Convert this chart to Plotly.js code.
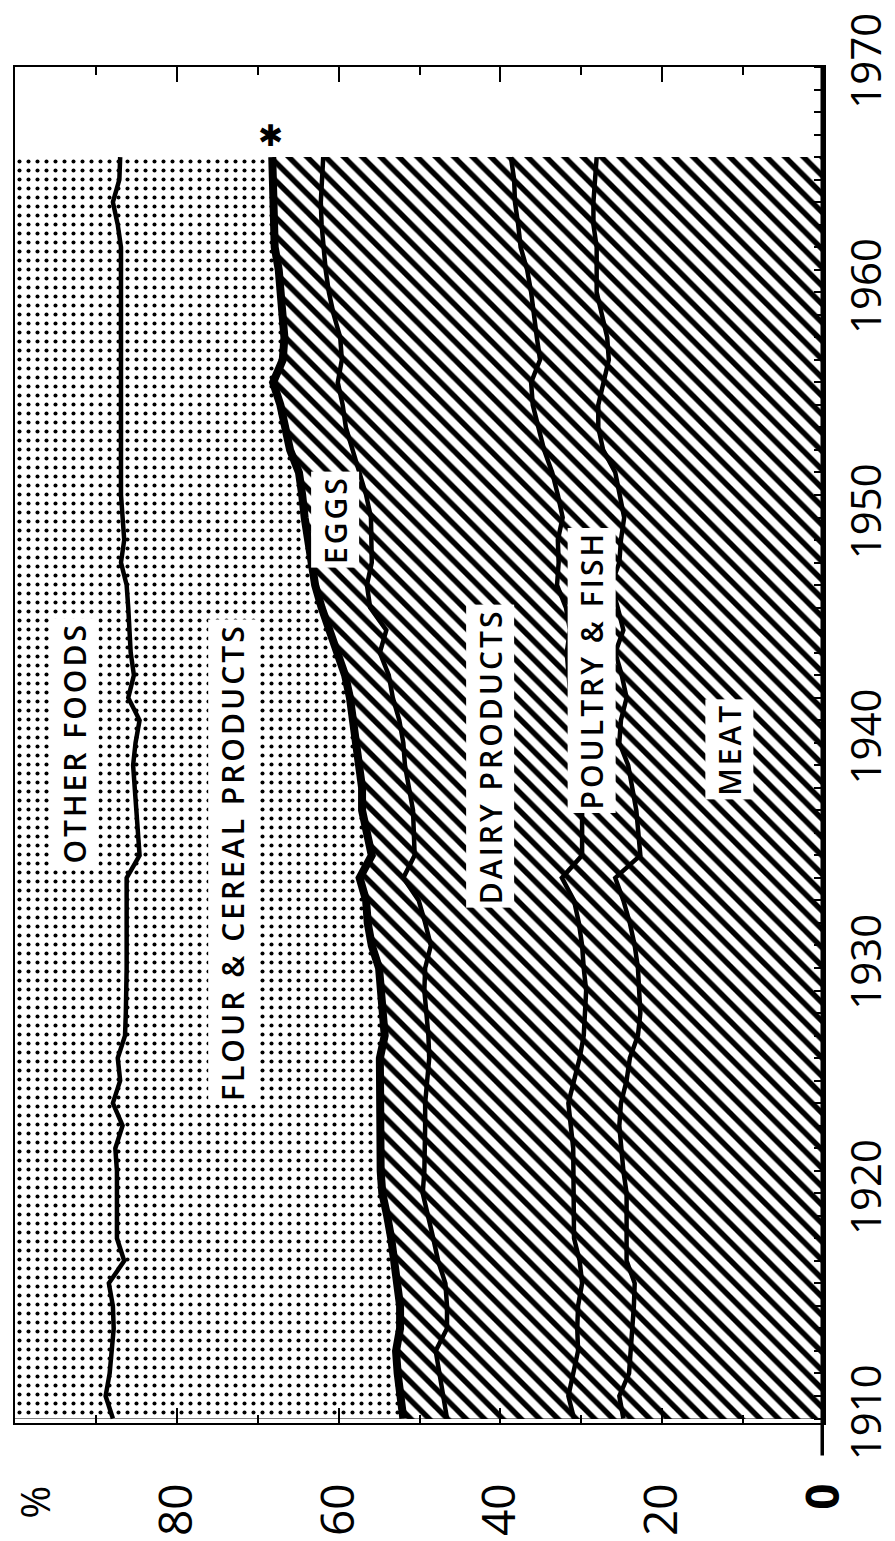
<!DOCTYPE html>
<html><head><meta charset="utf-8">
<script src="https://cdn.plot.ly/plotly-3.0.1.min.js"></script>
<style>
html,body{margin:0;padding:0;background:#fff}
#chart{width:895px;height:1541px}
.annotation-text{letter-spacing:3px}
</style>
</head><body><div id="chart"></div>
<script>
// Years on the (rotated) vertical axis
const years = [1910,1911,1912,1913,1914,1915,1916,1917,1918,1919,
  1920,1921,1922,1923,1924,1925,1926,1927,1928,1929,
  1930,1931,1932,1933,1934,1935,1936,1937,1938,1939,
  1940,1941,1942,1943,1944,1945,1946,1947,1948,1949,
  1950,1951,1952,1953,1954,1955,1956,1957,1958,1959,
  1960,1961,1962,1963,1964,1965,1966];

// Cumulative percent boundaries (upper edge of each band)
const meatTop = [24.8,25.3,24.1,23.9,23.6,23.5,23.4,24.4,24.4,24.4,
  24.4,24.8,25.0,25.3,25.1,24.4,24.0,23.0,22.7,22.9,
  23.0,23.4,24.0,24.8,25.8,22.7,23.0,23.2,23.7,24.2,
  25.3,25.1,24.4,25.0,25.8,24.8,25.5,26.3,25.3,25.1,
  24.7,25.2,25.8,27.3,27.9,27.9,27.3,26.6,26.8,27.5,
  28.1,28.1,28.1,28.5,28.5,28.3,28.1];
const poultryFishTop = [30.9,31.6,31.0,30.4,30.5,30.4,29.9,30.2,30.9,30.9,
  30.9,30.9,31.0,31.3,31.6,30.9,30.2,29.7,29.5,29.4,
  29.7,29.9,30.3,30.9,32.4,29.9,29.9,29.9,30.2,30.4,
  30.7,31.1,31.3,31.5,31.8,31.4,31.9,33.0,32.8,32.9,
  32.3,32.9,33.6,34.6,35.3,36.0,36.2,35.1,35.5,35.8,
  36.2,36.7,37.5,37.8,38.2,38.3,38.7];
const dairyTop = [46.6,47.1,47.5,48.0,46.6,46.6,46.8,47.7,48.3,48.9,
  49.6,49.4,49.3,49.3,49.3,49.1,48.8,48.9,49.2,49.4,
  49.3,48.6,49.3,50.1,52.0,50.6,50.7,50.8,51.3,51.8,
  52.0,52.5,53.3,53.8,54.9,54.1,56.1,56.5,55.9,55.9,
  56.0,56.6,57.4,58.2,59.1,59.5,60.1,59.6,59.8,60.6,
  61.2,61.6,61.9,62.1,62.2,62.1,61.9];
const eggsTop = [52.0,52.4,52.7,52.9,52.4,52.4,52.7,53.2,53.5,54.0,
  54.6,54.8,54.8,54.9,54.9,55.0,54.9,54.3,54.5,54.9,
  55.0,55.9,56.4,56.6,57.4,55.9,56.6,57.1,57.1,57.5,
  57.8,58.1,58.6,59.2,60.2,61.1,62.1,62.9,63.4,63.8,
  64.2,64.5,64.9,66.0,66.6,67.2,68.1,66.9,66.7,66.9,
  67.0,67.4,67.9,68.0,68.1,68.2,68.2];
const flourCerealTop = [87.9,88.8,88.3,88.1,87.8,87.9,88.4,86.5,87.4,87.4,
  87.4,87.4,87.6,86.7,87.9,87.0,87.3,86.4,86.3,86.2,
  86.2,86.2,86.2,86.2,86.2,84.6,84.8,85.1,85.3,85.4,
  85.1,84.6,86.0,85.3,85.7,85.8,86.0,86.2,86.9,86.5,
  86.7,86.9,86.9,86.9,86.9,86.9,86.9,86.9,86.9,86.9,
  86.9,86.9,86.9,87.3,87.9,87.1,87.0];
const otherFoodsTop = [100,100,100,100,100,100,100,100,100,100,
  100,100,100,100,100,100,100,100,100,100,
  100,100,100,100,100,100,100,100,100,100,
  100,100,100,100,100,100,100,100,100,100,
  100,100,100,100,100,100,100,100,100,100,
  100,100,100,100,100,100,100];

const pctTickVals = [80,60,40,20,0];
const pctTickText = ['80','60','40','20','<b>0</b>'];
const yearTickVals = [1910,1920,1930,1940,1950,1960,1970];
const fiveYearTicks = [1915,1925,1935,1945,1955,1965];

const labels = [
  {text:'OTHER FOODS', x:92.6, y:1940.0},
  {text:'FLOUR & CEREAL PRODUCTS', x:73.2, y:1934.7},
  {text:'EGGS', x:60.4, y:1949.9},
  {text:'DAIRY PRODUCTS', x:41.3, y:1939.4},
  {text:'POULTRY & FISH', x:28.7, y:1943.2},
  {text:'MEAT', x:11.7, y:1939.7}
];

const hatch = {shape:'\\', size:13, solidity:0.42, fgcolor:'black', bgcolor:'white'};
const dots = {shape:'.', size:9, solidity:0.16, fgcolor:'black', bgcolor:'white'};

function band(xs, fill, pattern, lw){
  return {type:'scatter', mode:'lines', x:xs, y:years, fill:fill,
    fillcolor:'white', fillpattern:pattern,
    line:{color:'black', width:lw}, hoverinfo:'skip', showlegend:false};
}

const data = [
  band(meatTop,'tozerox',hatch,4.5),
  band(poultryFishTop,'tonextx',hatch,4.5),
  band(dairyTop,'tonextx',hatch,4.5),
  band(eggsTop,'tonextx',hatch,8),
  band(flourCerealTop,'tonextx',dots,4.5),
  band(otherFoodsTop,'tonextx',dots,0)
];

const annotations = labels.map(l => ({
  text:l.text, x:l.x, y:l.y, xref:'x', yref:'y', showarrow:false,
  textangle:-90, bgcolor:'white', borderpad:3,
  font:{family:'Open Sans', size:30, weight:600, color:'black'}
}));
annotations.push({text:'✱', x:eggsTop[eggsTop.length-1], y:years[years.length-1],
  xref:'x', yref:'y', showarrow:false, yanchor:'bottom', yshift:2,
  font:{family:'DejaVu Sans', size:30, color:'black'}});
annotations.push({text:'%', x:97.6, y:-0.057, xref:'x', yref:'paper', showarrow:false,
  xanchor:'center', yanchor:'middle',
  textangle:-90, font:{family:'Open Sans', size:40, color:'black'}});

const layout = {
  width:895, height:1541,
  margin:{l:15, r:71, t:67, b:118},
  paper_bgcolor:'white', plot_bgcolor:'white',
  showlegend:false,
  xaxis:{range:[100,0], tickmode:'array', tickvals:pctTickVals, ticktext:pctTickText,
    tickangle:-90, ticks:'inside', ticklen:15, tickwidth:2, tickcolor:'black',
    minor:{tickmode:'linear', tick0:0, dtick:10, ticks:'inside', ticklen:8, tickwidth:2, tickcolor:'black'},
    showline:true, linewidth:2, linecolor:'black', mirror:'ticks',
    showgrid:false, zeroline:false, ticklabelstandoff:40,
    tickfont:{family:'Open Sans', size:46, color:'black'}},
  yaxis:{range:[1909.8,1970], side:'right', tickmode:'array', tickvals:yearTickVals,
    tickangle:-90, ticks:'', showgrid:true, gridcolor:'black', gridwidth:1.3,
    minor:{tickmode:'linear', tick0:1910, dtick:1, ticks:'inside', ticklen:10, tickwidth:2, tickcolor:'black', showgrid:false},
    showline:true, linewidth:2, linecolor:'black', mirror:true, zeroline:false,
    ticklabelstandoff:5,
    tickfont:{family:'Open Sans', size:42, color:'black'}},
  yaxis2:{range:[1909.8,1970], overlaying:'y', side:'right', anchor:'x',
    tickmode:'array', tickvals:fiveYearTicks, ticks:'inside', ticklen:30, tickwidth:2,
    tickcolor:'black', showticklabels:false, showgrid:false, showline:false, zeroline:false},
  shapes:[{type:'line', xref:'x', yref:'paper', x0:0, x1:0, y0:-0.024, y1:1,
    line:{color:'black', width:7}}],
  annotations:annotations
};

Plotly.newPlot('chart', data, layout, {staticPlot:true});
</script>
</body></html>
